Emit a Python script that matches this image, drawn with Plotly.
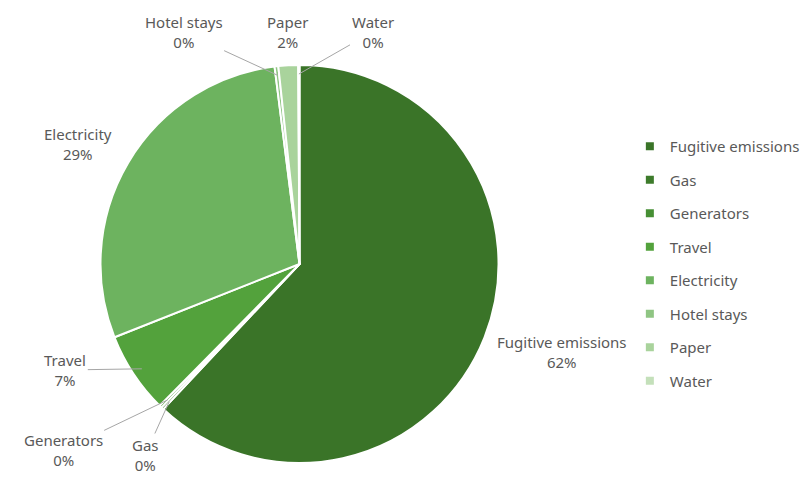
import math
import plotly.graph_objects as go

categories = ["Fugitive emissions", "Gas", "Generators", "Travel", "Electricity",
              "Hotel stays", "Paper", "Water"]
values = [62.0, 0.2, 0.2, 6.6, 29.0, 0.3, 1.6, 0.1]
colors = ["#3a7428", "#3d7b2b", "#468f34", "#53a23c", "#6db35f",
          "#8fc583", "#a9d39c", "#c4e0ba"]

W, H = 805, 477
CX, CY, R = 301, 264, 200
TEXT = "#595959"
FONT = "Noto Sans"
FS = 15

# label centre positions (px) and whether a leader line is drawn
label_pos = {
    "Fugitive emissions": (565, 352, False),
    "Gas": (146, 455, True),
    "Generators": (64, 450, True),
    "Travel": (66, 370, True),
    "Electricity": (78, 144, False),
    "Hotel stays": (185, 32, True),
    "Paper": (289, 32, False),
    "Water": (374, 32, True),
}

fig = go.Figure()
fig.add_trace(go.Pie(
    labels=categories, values=values, sort=False, direction="clockwise",
    rotation=0, marker=dict(colors=colors, line=dict(color="white", width=2)),
    textinfo="none", showlegend=False,
    domain=dict(x=[(CX - R) / W, (CX + R) / W], y=[1 - (CY + R) / H, 1 - (CY - R) / H]),
))

# legend via dummy traces (for spacing)
for c, col in zip(categories, colors):
    fig.add_trace(go.Scatter(x=[None], y=[None], mode="markers", name=c,
                             legendgroup=c,
                             marker=dict(symbol="square", size=8, color=col)))

total = sum(values)
cum = 0.0
annotations = []
for c, v in zip(categories, values):
    mid = (cum + v / 2) / total * 2 * math.pi
    cum += v
    tipx = CX + R * 0.95 * math.sin(mid)
    tipy = CY - R * 0.95 * math.cos(mid)
    lx, ly, leader = label_pos[c]
    pct = round(v / total * 100)
    text = f"{c}<br>{pct}%"
    if leader:
        annotations.append(dict(
            x=tipx / W, y=1 - tipy / H, xref="paper", yref="paper",
            ax=lx - tipx, ay=ly - tipy, axref="pixel", ayref="pixel",
            text=text, showarrow=True, arrowhead=0, arrowwidth=1,
            arrowcolor="#a6a6a6", standoff=0, startstandoff=0,
            font=dict(family=FONT, size=FS, color=TEXT), align="center"))
    else:
        annotations.append(dict(
            x=lx / W, y=1 - ly / H, xref="paper", yref="paper",
            text=text, showarrow=False, xanchor="center", yanchor="middle",
            font=dict(family=FONT, size=FS, color=TEXT), align="center"))

fig.update_layout(
    width=W, height=H, margin=dict(l=0, r=0, t=0, b=0),
    paper_bgcolor="white", plot_bgcolor="white",
    xaxis=dict(visible=False), yaxis=dict(visible=False),
    annotations=annotations,
    legend=dict(x=633 / W, y=1 - 130 / H, xanchor="left", yanchor="top",
                font=dict(family=FONT, size=FS, color=TEXT),
                tracegroupgap=11, itemwidth=30, bgcolor="rgba(0,0,0,0)"),
    font=dict(family=FONT, color=TEXT),
)

fig.write_html("out.html")
